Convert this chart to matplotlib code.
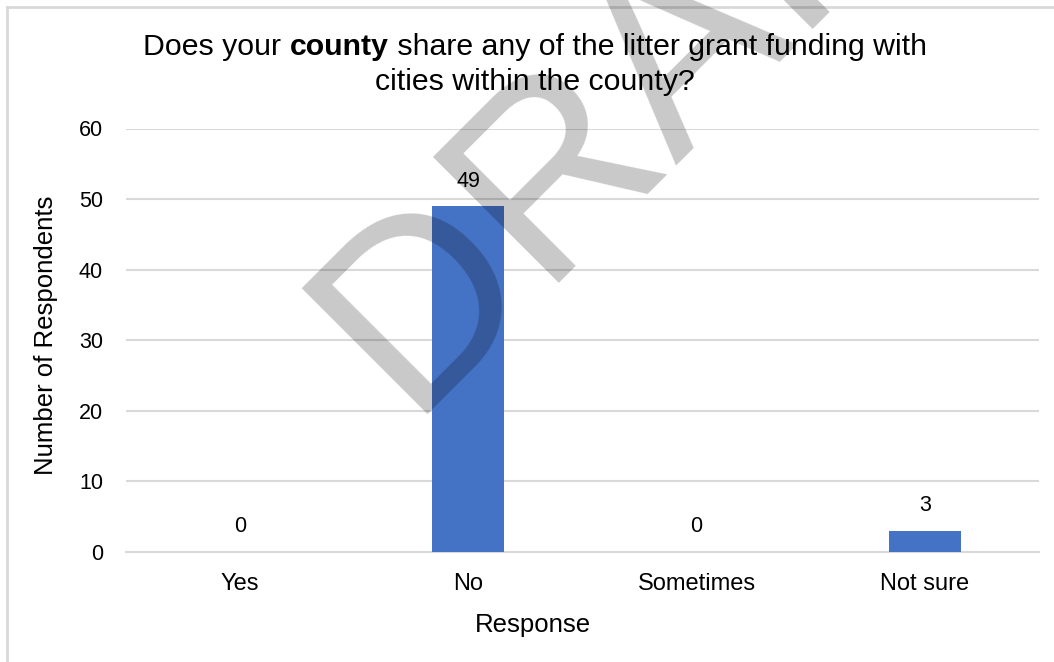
import matplotlib
matplotlib.use("Agg")
import matplotlib.pyplot as plt
from matplotlib.lines import Line2D

categories = ["Yes", "No", "Sometimes", "Not sure"]
values = [0, 49, 0, 3]
yticks = [0, 10, 20, 30, 40, 50, 60]
title_parts = [("Does your ", "normal"), ("county", "bold"),
               (" share any of the litter grant funding with", "normal")]
title_line2 = "cities within the county?"
xlabel = "Response"
ylabel = "Number of Respondents"
watermark = "DRAFT"

FONT = "Liberation Sans"
plt.rcParams["font.family"] = [FONT, "DejaVu Sans"]

W, H = 1054, 662
ax_l, ax_r, ax_b, ax_t = 126, 1039, 551.7, 128.5
fig = plt.figure(figsize=(W / 100, H / 100), dpi=100)
ax = fig.add_axes([ax_l / W, 1 - ax_b / H, (ax_r - ax_l) / W, (ax_b - ax_t) / H])

bar_color = "#4472C4"
grid_color = "#D9D9D9"
NUM = 15.5
CAT = 17
AXT = 18.5
x = list(range(len(categories)))
ax.bar(x, values, width=0.315, color=bar_color, zorder=3)
ax.set_xlim(-0.5, len(categories) - 0.5)
ax.set_ylim(0, 60)
ax.set_yticks(yticks)
ax.set_xticks(x)
ax.set_xticklabels(categories)
ax.tick_params(axis="both", length=0, colors="black")
ax.tick_params(axis="x", pad=15, labelsize=CAT)
ax.tick_params(axis="y", pad=16.5, labelsize=NUM)
ax.grid(axis="y", color=grid_color, linewidth=1.5, zorder=0)
for s in ["top", "right", "left"]:
    ax.spines[s].set_visible(False)
ax.spines["bottom"].set_color(grid_color)
ax.spines["bottom"].set_linewidth(1.5)

for xi, v in zip(x, values):
    ax.annotate(str(v), (xi, v), xytext=(0, 25), textcoords="offset pixels",
                ha="center", va="center", fontsize=NUM, color="black")

ax.set_xlabel(xlabel, fontsize=AXT, labelpad=13)
ax.set_ylabel(ylabel, fontsize=AXT, labelpad=15)
ax.xaxis.label.set_x((533 - ax_l) / (ax_r - ax_l))
ax.yaxis.label.set_y(1 - (335 - ax_t) / (ax_b - ax_t))

# title (line 1 fitted to its measured width)
cx = 535 / W
fig.canvas.draw()
r = fig.canvas.get_renderer()
fs = 20
pieces = []
for txt, wt in title_parts:
    pieces.append(fig.text(0, 1 - 47 / H, txt, ha="left", va="center", fontsize=fs, fontweight=wt))
widths = [p.get_window_extent(r).width for p in pieces]
scale = 783 / sum(widths)
fs = fs * scale
for p in pieces:
    p.set_fontsize(fs)
widths = [p.get_window_extent(r).width for p in pieces]
start = cx * W - sum(widths) / 2
for p, w in zip(pieces, widths):
    p.set_x(start / W)
    start += w
fig.text(cx, 1 - 82 / H, title_line2, ha="center", va="center", fontsize=fs)

# chart frame
fig.add_artist(Line2D([7 / W, 7 / W], [0, 1 - 7 / H], color=grid_color, lw=2))
fig.add_artist(Line2D([7 / W, 1], [1 - 7 / H, 1 - 7 / H], color=grid_color, lw=2))

# watermark
fig.text(407 / W, 1 - 414 / H, watermark, rotation=45, rotation_mode="anchor",
         fontsize=186, color="black", alpha=0.215, ha="left", va="baseline", zorder=10)

fig.savefig("out.png", dpi=100)
